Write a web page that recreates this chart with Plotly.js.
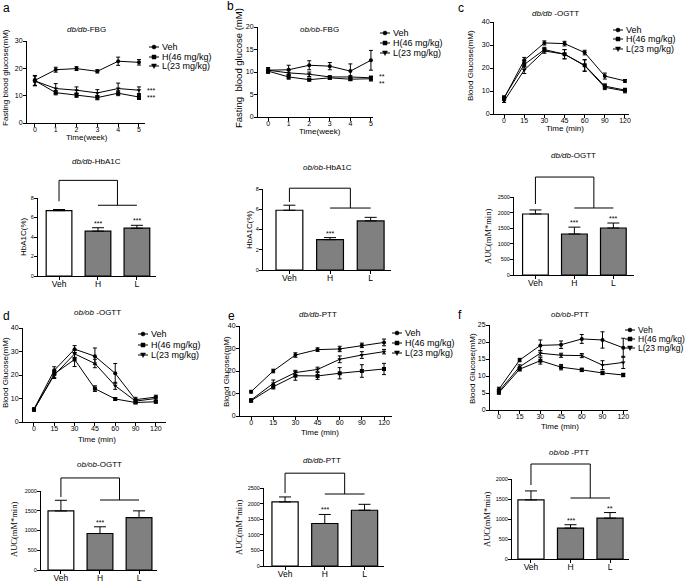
<!DOCTYPE html>
<html>
<head>
<meta charset="utf-8">
<script src="https://cdn.plot.ly/plotly-3.0.1.min.js"></script>
<style>
  body { margin: 0; background: #fff; }
  #chart { width: 685px; height: 582px; }
</style>
</head>
<body>
<div id="chart"></div>
<script>
// shared categories
var weeks = [0, 1, 2, 3, 4, 5];
var minutes = ['0', '15', '30', '45', '60', '90', '120'];
var groups = ['Veh', 'H', 'L'];
var seriesNames = ['Veh', 'H(46 mg/kg)', 'L(23 mg/kg)'];

// a - db/db FBG (mM)
var dbFbgVeh = [15.6, 19.5, 19.9, 18.9, 22.6, 22.2];
var dbFbgVehErr = [1.8, 0.9, 0.7, 0.6, 1.5, 1.0];
var dbFbgH = [15.5, 11.1, 10.2, 9.3, 10.9, 9.5];
var dbFbgHErr = [1.8, 0.8, 0.8, 0.8, 0.9, 0.9];
var dbFbgL = [15.4, 12.6, 12.0, 11.0, 12.6, 12.0];
var dbFbgLErr = [1.8, 1.8, 1.2, 1.2, 2.0, 1.2];

// b - ob/ob FBG (mM)
var obFbgVeh = [10.4, 10.5, 11.5, 11.3, 10.2, 12.6];
var obFbgVehErr = [0.6, 1.0, 1.0, 0.8, 1.6, 2.2];
var obFbgH = [10.2, 8.9, 8.3, 8.7, 8.4, 8.5];
var obFbgHErr = [0.5, 0.5, 0.3, 0.3, 0.3, 0.5];
var obFbgL = [10.4, 9.8, 9.5, 8.9, 8.9, 8.7];
var obFbgLErr = [0.5, 0.5, 0.5, 0.3, 0.3, 0.4];

// c - db/db OGTT (mM)
var dbOgttVeh = [6.8, 23.4, 30.9, 30.6, 26.7, 16.5, 14.4];
var dbOgttVehErr = [0.6, 1.2, 0.9, 1.0, 1.0, 1.3, 0.6];
var dbOgttH = [7.2, 21.5, 28.0, 26.0, 21.2, 12.1, 10.4];
var dbOgttHErr = [0.6, 1.5, 1.0, 2.0, 2.5, 1.0, 0.8];
var dbOgttL = [5.6, 19.1, 27.4, 26.0, 21.0, 11.6, 10.0];
var dbOgttLErr = [0.6, 1.5, 1.0, 2.0, 2.5, 1.0, 0.8];

// d - ob/ob OGTT (mM)
var obOgttVeh = [5.5, 22.0, 31.0, 28.0, 20.7, 9.5, 10.6];
var obOgttVehErr = [0.5, 1.5, 1.5, 3.5, 4.2, 1.0, 0.8];
var obOgttH = [5.2, 20.5, 26.6, 14.2, 9.8, 8.3, 8.6];
var obOgttHErr = [0.5, 1.5, 3.0, 1.2, 0.6, 0.5, 0.5];
var obOgttL = [5.3, 20.0, 29.0, 24.9, 15.4, 8.9, 10.0];
var obOgttLErr = [0.5, 1.5, 1.5, 1.8, 1.5, 1.0, 0.8];

// e - db/db PTT (mM)
var dbPttVeh = [10.8, 20.0, 27.1, 29.5, 29.8, 31.4, 32.7];
var dbPttVehErr = [0.6, 0.8, 1.0, 0.8, 1.2, 1.0, 1.5];
var dbPttH = [6.8, 13.0, 17.9, 17.8, 19.0, 20.0, 20.9];
var dbPttHErr = [0.6, 1.0, 2.0, 1.5, 2.5, 2.8, 2.5];
var dbPttL = [7.1, 14.5, 19.3, 20.7, 25.2, 27.1, 28.6];
var dbPttLErr = [0.6, 1.5, 1.0, 1.0, 1.5, 1.5, 1.0];

// f - ob/ob PTT (mM)
var obPttVeh = [6.1, 14.7, 19.0, 19.2, 20.9, 20.6, 18.3];
var obPttVehErr = [0.6, 0.5, 1.6, 1.1, 1.3, 2.4, 2.8];
var obPttH = [5.1, 12.0, 14.5, 12.6, 11.8, 10.9, 10.3];
var obPttHErr = [0.4, 0.5, 1.0, 0.8, 0.5, 0.5, 0.5];
var obPttL = [5.5, 12.7, 16.7, 16.1, 16.0, 13.2, 14.0];
var obPttLErr = [0.5, 0.6, 0.8, 0.6, 0.6, 1.3, 1.8];

// bar panels: means, SEM, significance marks
var dbHba1c = [6.7, 4.6, 4.9];
var dbHba1cErr = [0.12, 0.35, 0.3];
var dbHba1cSig = ['', '***', '***'];
var obHba1c = [5.9, 3.0, 4.85];
var obHba1cErr = [0.5, 0.2, 0.35];
var obHba1cSig = ['', '***', ''];
var dbOgttAuc = [1955, 1314, 1506];
var dbOgttAucErr = [130, 220, 160];
var dbOgttAucSig = ['', '***', '***'];
var obOgttAuc = [1495, 924, 1327];
var obOgttAucErr = [270, 170, 170];
var obOgttAucSig = ['', '***', ''];
var dbPttAuc = [2053, 1362, 1787];
var dbPttAucErr = [160, 290, 190];
var dbPttAucSig = ['', '***', ''];
var obPttAuc = [1477, 772, 1021];
var obPttAucErr = [225, 85, 140];
var obPttAucSig = ['', '***', '**'];

var W = 685, H = 582;
var FONT = 'Arial, "Liberation Sans", sans-serif';
var SERIF = '"Times New Roman", "Liberation Serif", serif';
var symbols = ['circle', 'square', 'triangle-down'];

function px(x) { return x / W; }
function py(y) { return 1 - y / H; }

var traces = [];
var shapes = [];
var annotations = [];
var layout = {
  width: W, height: H,
  margin: {l: 0, r: 0, t: 0, b: 0},
  showlegend: false,
  paper_bgcolor: 'white', plot_bgcolor: 'white',
  font: {family: FONT, color: 'black', size: 8}
};

function label(text, x, y, size, extra) {
  var a = {text: text, x: px(x), y: py(y), xref: 'paper', yref: 'paper', showarrow: false,
    xanchor: 'center', yanchor: 'middle', font: {size: size, family: FONT, color: 'black'}};
  return Object.assign(a, extra || {});
}

function setAxes(n, box, xopt, yopt) {
  var s = n === 1 ? '' : n;
  var base = {showline: true, linecolor: 'black', linewidth: 1, ticks: 'outside', ticklen: 3,
    tickwidth: 1, tickcolor: 'black', showgrid: false, zeroline: false, fixedrange: true};
  layout['xaxis' + s] = Object.assign({}, base,
    {domain: [px(box[0]), px(box[1])], anchor: 'y' + s, ticklabelstandoff: -3}, xopt);
  layout['yaxis' + s] = Object.assign({}, base,
    {domain: [py(box[3]), py(box[2])], anchor: 'x' + s, ticklabelstandoff: -1}, yopt);
  return s;
}

function addLegend(x, ys, size) {
  seriesNames.forEach(function(name, i) {
    var y = py(ys[i]);
    shapes.push({type: 'line', xref: 'paper', yref: 'paper', x0: px(x), x1: px(x + 10), y0: y, y1: y,
      line: {color: 'black', width: 1}});
    var cx = x + 5, cy = ys[i], r = 2;
    if (i === 0) {
      shapes.push({type: 'circle', xref: 'paper', yref: 'paper', x0: px(cx - r), x1: px(cx + r),
        y0: py(cy + r), y1: py(cy - r), fillcolor: 'black', line: {color: 'black', width: 0.5}});
    } else if (i === 1) {
      shapes.push({type: 'rect', xref: 'paper', yref: 'paper', x0: px(cx - r), x1: px(cx + r),
        y0: py(cy + r), y1: py(cy - r), fillcolor: 'black', line: {color: 'black', width: 0.5}});
    } else {
      shapes.push({type: 'path', xref: 'paper', yref: 'paper',
        path: 'M' + px(cx - 2.5) + ',' + py(cy - 2) + ' L' + px(cx + 2.5) + ',' + py(cy - 2) +
          ' L' + px(cx) + ',' + py(cy + 2.5) + ' Z',
        fillcolor: 'black', line: {color: 'black', width: 0.5}});
    }
    annotations.push(label(name, x + 11, ys[i], size || 9, {xanchor: 'left'}));
  });
}

function linePanel(p) {
  var s = setAxes(p.n, p.box,
    {range: p.xrange, type: p.x === weeks ? 'linear' : 'category', dtick: 1, tickfont: {size: 7}},
    {range: p.yrange, dtick: p.dtick, tickfont: {size: 7}});
  p.series.forEach(function(d, i) {
    traces.push({type: 'scatter', mode: 'lines+markers', x: p.x, y: d[0], name: seriesNames[i],
      xaxis: 'x' + s, yaxis: 'y' + s, cliponaxis: false,
      line: {color: 'black', width: 1},
      marker: {symbol: symbols[i], size: 4, color: 'black'},
      error_y: {type: 'data', array: d[1], visible: true, color: 'black', thickness: 1, width: 2}});
  });
  annotations.push(label(p.title, p.titlePos[0], p.titlePos[1], 8));
  annotations.push(label(p.ytitle, p.yPos[0], p.yPos[1], p.ySize || 8, {textangle: -90}));
  annotations.push(label(p.xtitle, p.xPos[0], p.xPos[1], 8));
  annotations.push(label(p.letter, p.letterPos[0], p.letterPos[1], 12, {xanchor: 'left'}));
  addLegend(p.legendX, p.legendY, p.legendSize);
  (p.sig || []).forEach(function(g) {
    var d = p.series[g[0]][0];
    annotations.push({text: g[1], x: p.x[d.length - 1], y: d[d.length - 1], xref: 'x' + s, yref: 'y' + s,
      showarrow: false, xanchor: 'left', yanchor: 'middle', xshift: 6, yshift: g[2] || 0,
      font: {size: 7, family: FONT, color: '#000000'}});
  });
}

function barPanel(p) {
  var s = setAxes(p.n, p.box,
    {range: p.xrange, type: 'category', tickfont: {size: 8.5}},
    {range: p.yrange, dtick: p.dtick, tickfont: {size: 5.5}});
  traces.push({type: 'bar', x: groups, y: p.vals, width: 0.66, xaxis: 'x' + s, yaxis: 'y' + s,
    marker: {color: ['white', '#808080', '#808080'], line: {color: 'black', width: 1.2}},
    error_y: {type: 'data', symmetric: false, array: p.errs, arrayminus: p.errs.map(function() { return 0; }),
      color: 'black', thickness: 1, width: 6}});
  p.sig.forEach(function(t, i) {
    if (!t) return;
    annotations.push({text: t, x: groups[i], y: p.vals[i] + p.errs[i], xref: 'x' + s, yref: 'y' + s,
      showarrow: false, yanchor: 'bottom', yshift: -1, font: {size: 7, family: FONT, color: 'black'}});
  });
  var b = p.bracket, yd = 'y' + s + ' domain', xr = 'x' + s;
  var seg = function(x0, x1, y0, y1) {
    shapes.push({type: 'line', xref: xr, yref: yd, x0: x0, x1: x1, y0: y0, y1: y1, line: {color: 'black', width: 1}});
  };
  seg(0, 0, b[1], b[0]);
  seg(0, 1.5, b[0], b[0]);
  seg(1.5, 1.5, b[0], b[2]);
  seg(1, 2, b[2], b[2]);
  annotations.push(label(p.title, p.titlePos[0], p.titlePos[1], 8));
  annotations.push(label(p.ytitle, p.yPos[0], p.yPos[1], 8,
    {textangle: -90, font: {size: p.serif ? 8.5 : 8, family: p.serif ? SERIF : FONT, color: 'black'}}));
}

linePanel({n: 1, box: [27, 145, 41, 123], x: weeks, xrange: [-0.38, 5.29], yrange: [0, 30], dtick: 10,
  series: [[dbFbgVeh, dbFbgVehErr], [dbFbgH, dbFbgHErr], [dbFbgL, dbFbgLErr]],
  title: '<i>db/db</i>-FBG', titlePos: [87, 29], ytitle: 'Fasting blood glucose(mM)', yPos: [6, 78],
  xtitle: 'Time(week)', xPos: [87, 137], letter: 'a', letterPos: [1, 8], legendX: 149, legendY: [47, 57, 66],
  sig: [[2, '***', 0], [1, '***', 0]]});

linePanel({n: 2, box: [258, 373, 27, 117], x: weeks, xrange: [-0.49, 5.1], yrange: [0, 20], dtick: 5,
  series: [[obFbgVeh, obFbgVehErr], [obFbgH, obFbgHErr], [obFbgL, obFbgLErr]],
  title: '<i>ob/ob</i>-FBG', titlePos: [319, 29], ytitle: 'Fasting  blood glucose (mM)', yPos: [238, 68], ySize: 9.5,
  xtitle: 'Time(week)', xPos: [320, 132], letter: 'b', letterPos: [225, 6], legendX: 380, legendY: [33, 43, 53],
  sig: [[2, '**', 1], [1, '**', -5]]});

linePanel({n: 3, box: [494, 629, 22, 114], x: minutes, xrange: [-0.5, 6.2], yrange: [0, 40], dtick: 10,
  series: [[dbOgttVeh, dbOgttVehErr], [dbOgttH, dbOgttHErr], [dbOgttL, dbOgttLErr]],
  title: '<i>db/db</i> -OGTT', titlePos: [555, 13], ytitle: 'Blood Glucose(mM)', yPos: [470, 66],
  xtitle: 'Time (min)', xPos: [565, 128], letter: 'c', letterPos: [456, 8], legendX: 613, legendY: [30, 39, 49]});

barPanel({n: 4, box: [38, 156, 198, 276], xrange: [-0.54, 2.49], yrange: [0, 8], dtick: 2,
  vals: dbHba1c, errs: dbHba1cErr, sig: dbHba1cSig, bracket: [1.226, 0.958, 0.907],
  title: '<i>db/db</i>-HbA1C', titlePos: [96, 161], ytitle: 'HbA1C(%)', yPos: [23, 237]});

barPanel({n: 5, box: [263, 391, 189, 270], xrange: [-0.65, 2.5], yrange: [0, 8], dtick: 2,
  vals: obHba1c, errs: obHba1cErr, sig: obHba1cSig, bracket: [1.01, 0.84, 0.765],
  title: '<i>ob/ob</i>-HbA1C', titlePos: [327, 167], ytitle: 'HbA1C(%)', yPos: [250, 230]});

barPanel({n: 6, box: [514, 634, 197, 275], xrange: [-0.55, 2.53], yrange: [0, 2500], dtick: 500,
  vals: dbOgttAuc, errs: dbOgttAucErr, sig: dbOgttAucSig, bracket: [1.256, 0.91, 0.859],
  title: '<i>db/db</i>-OGTT', titlePos: [573, 156], ytitle: 'AUC(mM*min)', yPos: [488, 237], serif: true});

linePanel({n: 7, box: [23, 166, 328, 422], x: minutes, xrange: [-0.54, 6.5], yrange: [0, 40], dtick: 10,
  series: [[obOgttVeh, obOgttVehErr], [obOgttH, obOgttHErr], [obOgttL, obOgttLErr]],
  title: '<i>ob/ob</i> -OGTT', titlePos: [97, 312], ytitle: 'Blood Glucose(mM)', yPos: [5, 373],
  xtitle: 'Time (min)', xPos: [97, 439], letter: 'd', letterPos: [1, 316], legendX: 138, legendY: [334, 345, 355]});

linePanel({n: 8, box: [240, 392, 326, 416], x: minutes, xrange: [-0.5, 6.36], yrange: [0, 40], dtick: 10,
  series: [[dbPttVeh, dbPttVehErr], [dbPttH, dbPttHErr], [dbPttL, dbPttLErr]],
  title: '<i>db/db</i>-PTT', titlePos: [318, 314], ytitle: 'Blood Glucose(mM)', yPos: [226, 371],
  xtitle: 'Time (min)', xPos: [320, 432], letter: 'e', letterPos: [226, 316], legendX: 392, legendY: [333, 343, 353]});

linePanel({n: 9, box: [490, 628, 325, 410], x: minutes, xrange: [-0.43, 6.23], yrange: [0, 25], dtick: 5,
  series: [[obPttVeh, obPttVehErr], [obPttH, obPttHErr], [obPttL, obPttLErr]],
  title: '<i>ob/ob</i>-PTT', titlePos: [570, 314], ytitle: 'Blood Glucose(mM)', yPos: [472, 369],
  xtitle: 'Time (min)', xPos: [560, 427], letter: 'f', letterPos: [456, 315], legendX: 625, legendY: [330, 339, 348],
  legendSize: 8.5});

barPanel({n: 10, box: [41, 157, 491, 570], xrange: [-0.51, 2.46], yrange: [0, 2000], dtick: 500,
  vals: obOgttAuc, errs: obOgttAucErr, sig: obOgttAucSig, bracket: [1.165, 0.924, 0.886],
  title: '<i>ob/ob</i>-OGTT', titlePos: [100, 464], ytitle: 'AUC(mM*min)', yPos: [14, 530], serif: true});

barPanel({n: 11, box: [264, 384, 488, 566], xrange: [-0.53, 2.49], yrange: [0, 2500], dtick: 500,
  vals: dbPttAuc, errs: dbPttAucErr, sig: dbPttAucSig, bracket: [1.19, 0.936, 0.923],
  title: '<i>db/db</i>-PTT', titlePos: [322, 460], ytitle: 'AUC(mM*min)', yPos: [239, 527], serif: true});

barPanel({n: 12, box: [512, 629, 479, 559], xrange: [-0.48, 2.48], yrange: [0, 2000], dtick: 500,
  vals: obPttAuc, errs: obPttAucErr, sig: obPttAucSig, bracket: [1.1875, 0.925, 0.7625],
  title: '<i>ob/ob</i> -PTT', titlePos: [569, 452], ytitle: 'AUC(mM*min)', yPos: [487, 520], serif: true});

layout.shapes = shapes;
layout.annotations = annotations;

Plotly.newPlot('chart', traces, layout, {staticPlot: true});
</script>
</body>
</html>
